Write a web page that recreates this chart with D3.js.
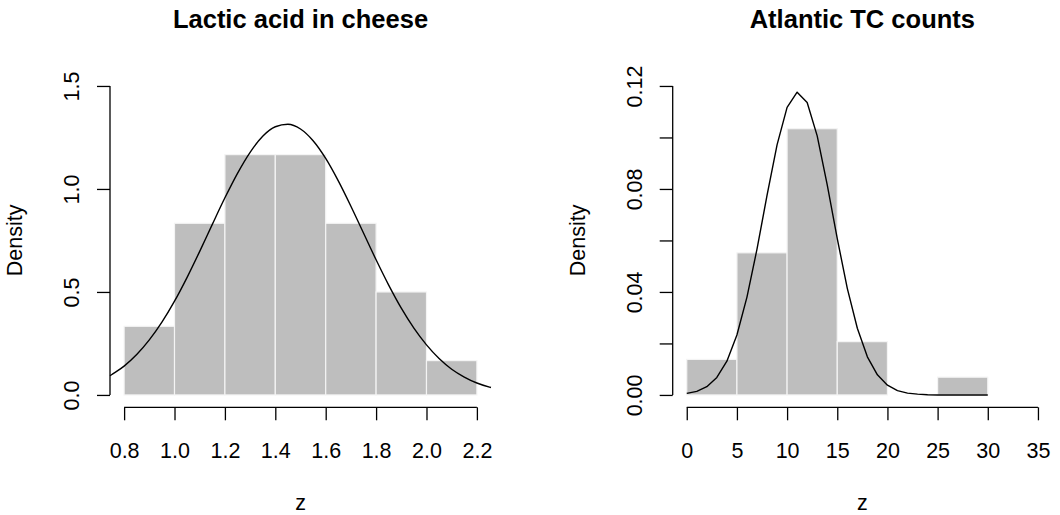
<!DOCTYPE html>
<html>
<head>
<meta charset="utf-8">
<script src="https://cdn.jsdelivr.net/npm/d3@7"></script>
<style>
  body { margin: 0; background: #fff; }
  svg { display: block; font-family: "Liberation Sans", Arial, Helvetica, sans-serif; }
</style>
</head>
<body>
<script>
// left panel: lactic acid histogram + fitted normal
const cheeseBreaks = [0.8, 1.0, 1.2, 1.4, 1.6, 1.8, 2.0, 2.2]
const cheeseDensity = [0.3333, 0.8333, 1.1667, 1.1667, 0.8333, 0.5, 0.1667]
const cheeseCurveX = [0.744, 0.75, 0.8, 0.85, 0.9, 0.95, 1.0, 1.05, 1.1, 1.15, 1.2, 1.25, 1.3, 1.35, 1.4, 1.45,
  1.5, 1.55, 1.6, 1.65, 1.7, 1.75, 1.8, 1.85, 1.9, 1.95, 2.0, 2.05, 2.1, 2.15, 2.2, 2.25, 2.256]
const cheeseCurveY = [0.093, 0.098, 0.140, 0.196, 0.267, 0.353, 0.455, 0.571, 0.697, 0.828, 0.957, 1.076, 1.178, 1.256, 1.302, 1.314,
  1.291, 1.234, 1.148, 1.039, 0.916, 0.786, 0.656, 0.533, 0.421, 0.324, 0.243, 0.177, 0.125, 0.087, 0.058, 0.038, 0.036]
const cheeseXTicks = [0.8, 1.0, 1.2, 1.4, 1.6, 1.8, 2.0, 2.2]
const cheeseYTicks = [0, 0.5, 1.0, 1.5]

// right panel: Atlantic TC counts histogram + fitted curve at integer counts
const tcBreaks = [0, 5, 10, 15, 20, 25, 30]
const tcDensity = [0.0138, 0.0552, 0.1034, 0.0207, 0, 0.0069]
const tcCurveX = [0, 1, 2, 3, 4, 5, 6, 7, 8, 9, 10, 11, 12, 13, 14, 15, 16, 17, 18, 19, 20,
  21, 22, 23, 24, 25, 26, 27, 28, 29, 30]
const tcCurveY = [0.0006, 0.0014, 0.0032, 0.0068, 0.0131, 0.0233, 0.0380, 0.0566, 0.0775, 0.0971, 0.1117, 0.1176,
  0.1136, 0.1006, 0.0816, 0.0607, 0.0414, 0.0259, 0.0148, 0.0078, 0.0038, 0.0017, 0.0007, 0.0003, 0.0001,
  0, 0, 0, 0, 0, 0]
const tcXTicks = [0, 5, 10, 15, 20, 25, 30, 35]
const tcYTicks = [0, 0.02, 0.04, 0.06, 0.08, 0.10, 0.12]
const tcYLabelled = [0, 0.04, 0.08, 0.12]

const W = 1060, H = 515
const svg = d3.select('body').append('svg').attr('width', W).attr('height', H)

const plotTop = 73.6, plotBottom = 407.3

function panel(opt) {
  const g = svg.append('g')
  const x = d3.scaleLinear().domain(opt.xDomain).range([opt.left, opt.right])
  const y = d3.scaleLinear().domain(opt.yDomain).range([plotBottom, plotTop])

  // bars
  const bins = opt.density.map((d, i) => ({ x0: opt.breaks[i], x1: opt.breaks[i + 1], d: d }))
  g.append('g').selectAll('rect').data(bins).join('rect')
    .attr('x', b => x(b.x0))
    .attr('width', b => x(b.x1) - x(b.x0))
    .attr('y', b => y(b.d))
    .attr('height', b => y(0) - y(b.d))
    .attr('fill', '#bebebe')
    .attr('stroke', '#f4f4f4')
    .attr('stroke-width', 1.2)

  // curve
  const line = d3.line()
    .x((d, i) => x(opt.curveX[i]))
    .y(d => y(d))
    .curve(opt.smooth ? d3.curveMonotoneX : d3.curveLinear)
  g.append('path')
    .attr('d', line(opt.curveY))
    .attr('fill', 'none')
    .attr('stroke', '#000')
    .attr('stroke-width', 1.4)
    .attr('stroke-linejoin', 'round')

  // x axis (R style: line only from first to last tick)
  const xa = g.append('g').attr('transform', `translate(0,${plotBottom})`)
    .call(d3.axisBottom(x).tickValues(opt.xTicks).tickSize(13).tickSizeOuter(0).tickPadding(22).tickFormat(opt.xFmt))
  xa.select('.domain').attr('d', `M${x(opt.xTicks[0])},0H${x(opt.xTicks[opt.xTicks.length - 1])}`)
  xa.selectAll('line, path').attr('stroke', '#000').attr('stroke-width', 1.3)
  xa.selectAll('text').attr('font-size', 21.5).attr('fill', '#000').attr('font-family', null)

  // y axis
  const ya = g.append('g').attr('transform', `translate(${opt.left},0)`)
    .call(d3.axisLeft(y).tickValues(opt.yTicks).tickSize(13).tickSizeOuter(0).tickFormat(opt.yFmt))
  ya.select('.domain').attr('d', `M0,${y(opt.yTicks[0])}V${y(opt.yTicks[opt.yTicks.length - 1])}`)
  ya.selectAll('line, path').attr('stroke', '#000').attr('stroke-width', 1.3)
  ya.selectAll('.tick text')
    .attr('font-size', 21.5).attr('fill', '#000').attr('font-family', null)
    .attr('x', null).attr('dy', null)
    .attr('text-anchor', 'middle')
    .attr('transform', 'translate(-31,0) rotate(-90)')

  // titles
  const cx = (opt.left + opt.right) / 2
  g.append('text').attr('x', cx).attr('y', 28).attr('text-anchor', 'middle')
    .attr('font-size', 25.5).attr('font-weight', 'bold').text(opt.title)
  g.append('text').attr('x', cx).attr('y', 510).attr('text-anchor', 'middle')
    .attr('font-size', 21.5).text('z')
  g.append('text')
    .attr('transform', `translate(${opt.left - 88},${(plotTop + plotBottom) / 2}) rotate(-90)`)
    .attr('text-anchor', 'middle').attr('font-size', 21.5).text('Density')
}

panel({
  title: 'Lactic acid in cheese',
  left: 110, right: 491,
  xDomain: [0.744, 2.256], yDomain: [-0.06, 1.56],
  breaks: cheeseBreaks, density: cheeseDensity,
  curveX: cheeseCurveX, curveY: cheeseCurveY, smooth: true,
  xTicks: cheeseXTicks, yTicks: cheeseYTicks,
  xFmt: d3.format('.1f'), yFmt: d3.format('.1f')
})

panel({
  title: 'Atlantic TC counts',
  left: 672.7, right: 1052,
  xDomain: [-1.4, 36.4], yDomain: [-0.0048, 0.1248],
  breaks: tcBreaks, density: tcDensity,
  curveX: tcCurveX, curveY: tcCurveY, smooth: false,
  xTicks: tcXTicks, yTicks: tcYTicks,
  xFmt: d3.format('d'),
  yFmt: v => tcYLabelled.some(t => Math.abs(t - v) < 1e-9) ? d3.format('.2f')(v) : ''
})
</script>
</body>
</html>
